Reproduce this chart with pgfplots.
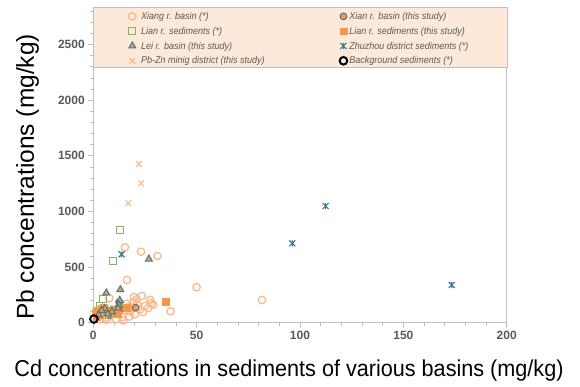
\documentclass[border=0pt]{standalone}
\usepackage{fontspec}
\setmainfont{Liberation Sans}
\newfontfamily\legfont[FakeStretch=0.92]{Liberation Sans}
\newfontfamily\labfont[FakeStretch=0.94]{Liberation Sans}
\usepackage{graphicx}
\usepackage{pgfplots}
\pgfplotsset{compat=1.18}
\definecolor{lorange}{HTML}{F8B88B}
\definecolor{lfill}{HTML}{FDEEE4}
\definecolor{lgreen}{HTML}{8DB063}
\definecolor{morange}{HTML}{F79646}
\definecolor{teal2}{HTML}{3E7C91}
\definecolor{peach}{HTML}{FDE9D9}
\definecolor{tgray}{HTML}{595959}
\definecolor{agray}{HTML}{BFBFBF}
\pgfdeclareplotmark{xstar}{%
  \pgfpathmoveto{\pgfqpoint{-\pgfplotmarksize}{-\pgfplotmarksize}}%
  \pgfpathlineto{\pgfqpoint{\pgfplotmarksize}{\pgfplotmarksize}}%
  \pgfpathmoveto{\pgfqpoint{-\pgfplotmarksize}{\pgfplotmarksize}}%
  \pgfpathlineto{\pgfqpoint{\pgfplotmarksize}{-\pgfplotmarksize}}%
  \pgfpathmoveto{\pgfqpoint{0pt}{-\pgfplotmarksize}}%
  \pgfpathlineto{\pgfqpoint{0pt}{\pgfplotmarksize}}%
  \pgfusepathqstroke}
\pgfplotsset{
  mk/.style={only marks, legend image code/.code={\draw[##1] plot coordinates {(0pt,3.2pt)};}},
}
\begin{document}
\begin{tikzpicture}
\useasboundingbox (-93.3pt,-64.3pt) rectangle (486.7pt,322.7pt);
\begin{axis}[
  scale only axis, width=413.4pt, height=315pt,
  xmin=0, xmax=200, ymin=0, ymax=2830,
  xtick={0,50,...,200}, ytick={0,500,...,2500},
  minor xtick={10,20,...,190}, minor ytick={100,200,...,2800},
  tick align=outside, major tick length=5pt, minor tick length=3pt,
  tick pos=left,
  tick style={agray, line width=0.6pt},
  axis line style={agray, line width=0.8pt},
  ticklabel style={font=\bfseries\fontsize{12}{14}\selectfont, text=tgray},
  /pgf/number format/assume math mode=true,
  /pgf/number format/1000 sep={},
  clip=false,
  xlabel={Cd concentrations in sediments of various basins (mg/kg)},
  ylabel={Pb concentrations (mg/kg)},
  every axis x label/.style={at={(rel axis cs:0.4734,0)}, yshift=-48pt, anchor=center, font=\labfont\fontsize{23}{26}\selectfont},
  every axis y label/.style={at={(rel axis cs:0,0.4625)}, xshift=-65.8pt, rotate=90, anchor=center, font=\fontsize{24.5}{28}\selectfont},
  legend columns=2,
  legend cell align=left,
  legend style={at={(rel axis cs:0,1)}, anchor=north west, xshift=35.1pt, yshift=-3.6pt,
    draw=none, fill=none, inner sep=0pt, row sep=4.2pt,
    font=\legfont\itshape\fontsize{9.8}{10.5}\selectfont, text=tgray,
    nodes={inner sep=1pt, anchor=base west},
    /tikz/column 1/.style={column sep=4pt},
    /tikz/column 2/.style={column sep=73.9pt},
    /tikz/column 3/.style={column sep=1pt}},
]
\fill[peach, draw=agray, line width=0.6pt] (rel axis cs:0,0.811) rectangle (rel axis cs:1.0024,1);

% Xiang r. basin (*)
\addplot[mk, mark=o, mark size=3.7pt, draw=lorange, line width=1.3pt, mark options={fill=lfill}] coordinates {
(15.3,677)(23.1,638)(31,599)(16.3,384)(50,318)(81.6,204)(37.4,102)(29,162)
(23.4,240)(19.7,231)(19.7,186)(21.3,168)(25,150)(26.6,132)(22.6,120)(7.7,219)
(27.5,205)(17,140)(15,115)(12,95)(10,80)(8,60)(6,45)(14,50)(11,30)(18,100)
(20,75)(16,170)(24,95)(9,120)(5,70)(13,150)(3,30)(2.5,80)(21,210)(28,175)(18.5,140)
(14.5,20)(17.5,55)(6.5,25)
};
\addlegendentry{Xiang r. basin (*)}
% Xian r. basin (this study)
\addplot[mk, mark=*, mark size=3.4pt, draw=teal2, fill=morange, line width=1pt] coordinates {
(20.5,135)(10,90)(6.5,110)(4,85)(13,120)(2,60)(8,75)(12.5,185)
};
\addlegendentry{Xian r. basin (this study)}
% Lian r. sediments (*)
\addplot[mk, mark=square, mark size=3.4pt, draw=lgreen, line width=1pt] coordinates {
(12.9,833)(9.4,551)(4.7,210)(7.4,72)(3,150)
};
\addlegendentry{Lian r. sediments (*)}
% Lian r. sediments (this study)
\addplot[mk, mark=square*, mark size=3.4pt, draw=morange, fill=morange] coordinates {
(35,190)(16.1,135)(2,110)(4,125)(6,100)(3,70)(8,90)(10,115)(1.5,50)(5,140)(12,80)(1,90)
};
\addlegendentry{Lian r. sediments (this study)}
% Lei r. basin (this study)
\addplot[mk, mark=triangle*, mark size=4pt, draw=teal2, fill=morange, line width=1pt] coordinates {
(26.9,572)(13.1,297)(6.3,267)(12.8,201)(12.3,162)(5.5,126)(4,110)(9,100)(12,130)(2.5,70)(7,80)
};
\addlegendentry{Lei r. basin (this study)}
% Zhuzhou district sediments (*)
\addplot[mk, mark=xstar, mark size=3pt, draw=teal2, line width=1.1pt] coordinates {
(13.7,614)(96.3,713)(112.4,1048)(173.4,339)
};
\addlegendentry{Zhuzhou district sediments (*)}
% Pb-Zn mining district (this study)
\addplot[mk, mark=x, mark size=4pt, draw=lorange, line width=1.1pt] coordinates {
(22.1,1426)(23.1,1252)(17,1073)
};
\addlegendentry{Pb-Zn minig district (this study)}
% Background sediments (*)
\addplot[mk, mark=o, mark size=3.8pt, draw=black, line width=2pt] coordinates {
(0.3,33)
};
\addlegendentry{Background sediments (*)}
\end{axis}
\end{tikzpicture}
\end{document}
